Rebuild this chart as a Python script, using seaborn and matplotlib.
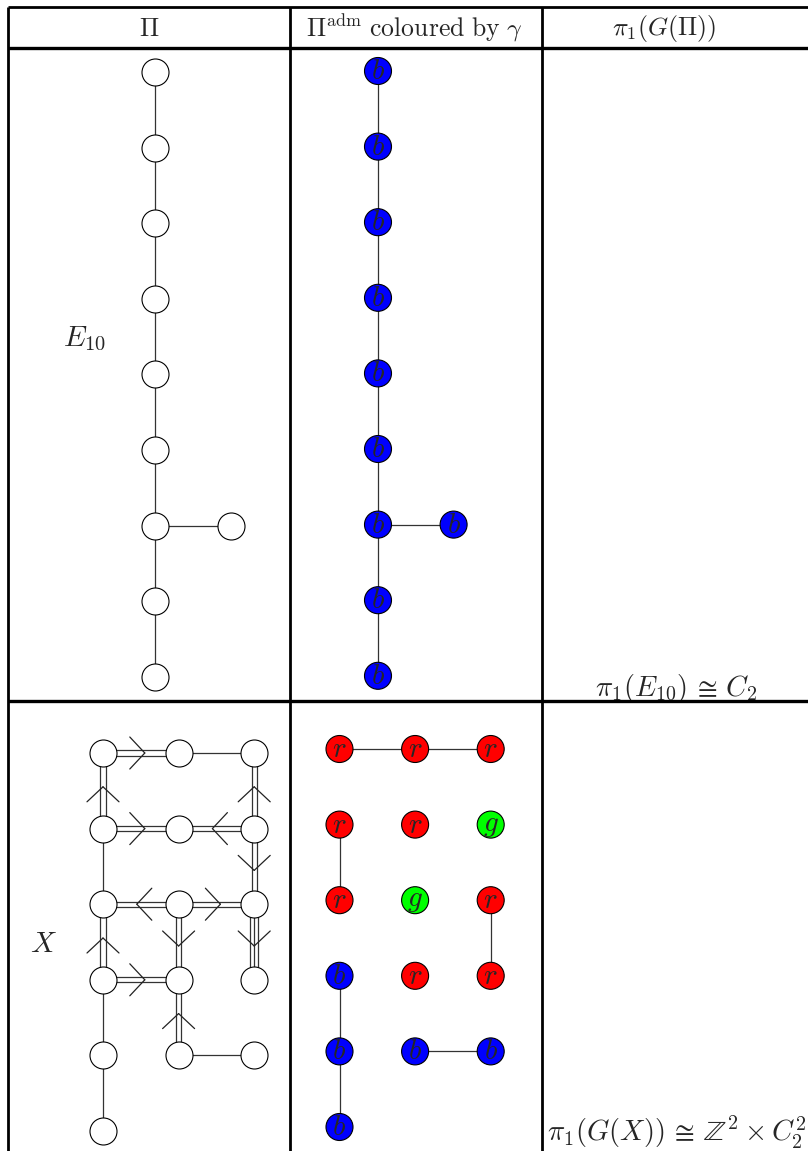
import numpy as np
import pandas as pd
import seaborn as sns
import matplotlib.pyplot as plt

# Layout unit (pixels between neighbouring nodes)
U = 75.6

# E10: one long chain with a branch at the 7th node
e10_col = [0, 0, 0, 0, 0, 0, 0, 0, 0, 1]
e10_row = [0, 1, 2, 3, 4, 5, 6, 7, 8, 6]
e10_edges = [(0, 1), (1, 2), (2, 3), (3, 4), (4, 5), (5, 6), (6, 7), (7, 8), (6, 9)]
e10_colours = ['b'] * 10

# X: 16 nodes on a 3-wide grid
x_col = [0, 1, 2, 0, 1, 2, 0, 1, 2, 0, 1, 2, 0, 1, 2, 0]
x_row = [0, 0, 0, 1, 1, 1, 2, 2, 2, 3, 3, 3, 4, 4, 4, 5]
# (from, to, multiplicity); arrow points at "to" when multiplicity > 1
x_edges = [(0, 1, 2), (1, 2, 1), (3, 0, 2), (5, 2, 2), (3, 4, 2), (5, 4, 2),
           (3, 6, 1), (5, 8, 2), (7, 6, 2), (7, 8, 2), (9, 6, 2), (7, 10, 2),
           (8, 11, 3), (9, 10, 2), (13, 10, 2), (9, 12, 1), (12, 15, 1), (13, 14, 1)]
x_colours = ['r', 'r', 'r', 'r', 'r', 'g', 'r', 'g', 'r', 'b', 'r', 'r', 'b', 'b', 'b', 'b']
x_adm_edges = [(0, 1), (1, 2), (3, 6), (8, 11), (9, 12), (12, 15), (13, 14)]

headers = [r'$\Pi$', r'$\Pi^{\mathrm{adm}}\ \mathrm{coloured\ by}\ \gamma$', r'$\pi_1(G(\Pi))$']
row_labels = [r'$E_{10}$', r'$X$']
groups = [r'$\pi_1(E_{10})\,\cong\,C_2$', r'$\pi_1(G(X))\,\cong\,\mathbb{Z}^2 \times C_2^2$']

palette = {'b': '#0000ff', 'r': '#ff0000', 'g': '#00ff00'}

sns.set_style('white')
plt.rcParams['mathtext.fontset'] = 'cm'
plt.rcParams['font.family'] = ['DejaVu Serif']

fig = plt.figure(figsize=(8.08, 11.51), dpi=100)
ax = fig.add_axes([0, 0, 1, 1])
ax.set_xlim(0, 808)
ax.set_ylim(1151, 0)
ax.axis('off')

px = 0.72  # points per pixel at dpi 100
FS = 21
HEAD_FS = 18.5
GROUP_FS = 20.5
NODE_S = (2 * 13.5 * px) ** 2
EDGE_C = '#333333'


def nodes_df(cols, rows, colours, ox, oy):
    df = pd.DataFrame({'col': cols, 'row': rows, 'colour': colours})
    df['x'] = ox + df['col'] * U
    df['y'] = oy + df['row'] * U
    return df


def draw_simple_edges(df, edges):
    for a, b in edges:
        ax.plot([df.x[a], df.x[b]], [df.y[a], df.y[b]], color=EDGE_C, lw=0.9, zorder=1)


def draw_dynkin_edges(df, edges):
    for a, b, m in edges:
        p0 = np.array([df.x[a], df.y[a]])
        p1 = np.array([df.x[b], df.y[b]])
        d = (p1 - p0) / np.linalg.norm(p1 - p0)
        n = np.array([-d[1], d[0]])
        if m == 1:
            offs = [0.0]
        elif m == 2:
            offs = [-2.6, 2.6]
        else:
            offs = [-4.2, 0.0, 4.2]
        for o in offs:
            q0, q1 = p0 + o * n, p1 + o * n
            ax.plot([q0[0], q1[0]], [q0[1], q1[1]], color=EDGE_C, lw=0.9, zorder=1)
        if m > 1:
            apex = (p0 + p1) / 2 + 4 * d
            for s in (1, -1):
                arm = apex - 15 * d + s * 16 * n
                ax.plot([arm[0], apex[0]], [arm[1], apex[1]], color='#222222', lw=0.9, zorder=3)


def draw_open_nodes(df):
    sns.scatterplot(data=df, x='x', y='y', s=NODE_S, color='white', edgecolor='black',
                    linewidth=0.8, ax=ax, zorder=4, legend=False)


def draw_coloured_nodes(df):
    sns.scatterplot(data=df, x='x', y='y', hue='colour', palette=palette, s=NODE_S,
                    edgecolor='black', linewidth=0.8, ax=ax, zorder=4, legend=False)
    for _, r in df.iterrows():
        ax.text(r.x, r.y, '$' + r.colour + '$', ha='center', va='center',
                fontsize=FS, zorder=5)


# E10 block
e10_open = nodes_df(e10_col, e10_row, e10_colours, 155, 72)
e10_adm = nodes_df(e10_col, e10_row, e10_colours, 378, 71)
draw_simple_edges(e10_open, e10_edges)
draw_open_nodes(e10_open)
draw_simple_edges(e10_adm, e10_edges)
draw_coloured_nodes(e10_adm)

# X block
x_open = nodes_df(x_col, x_row, x_colours, 103, 753)
x_adm = nodes_df(x_col, x_row, x_colours, 339.5, 749)
draw_dynkin_edges(x_open, x_edges)
draw_open_nodes(x_open)
draw_simple_edges(x_adm, x_adm_edges)
draw_coloured_nodes(x_adm)

# Table rules
ax.hlines(7, 8, 808, color='black', lw=2.0, zorder=6)
ax.hlines(48, 8, 808, color='black', lw=2.4, zorder=6)
ax.hlines(701, 8, 808, color='black', lw=2.4, zorder=6)
ax.vlines([8, 290, 542], 7, 1151, color='black', lw=2.0, zorder=6)

# Texts
for cx, h in zip([149, 414, 664], headers):
    ax.text(cx, 28, h, ha='center', va='center', fontsize=HEAD_FS)
ax.text(85, 339, row_labels[0], ha='center', va='center', fontsize=FS)
ax.text(43, 944, row_labels[1], ha='center', va='center', fontsize=FS)
ax.text(676, 688, groups[0], ha='center', va='center', fontsize=GROUP_FS)
ax.text(677, 1133, groups[1], ha='center', va='center', fontsize=GROUP_FS)

fig.savefig('out.png', dpi=100)
